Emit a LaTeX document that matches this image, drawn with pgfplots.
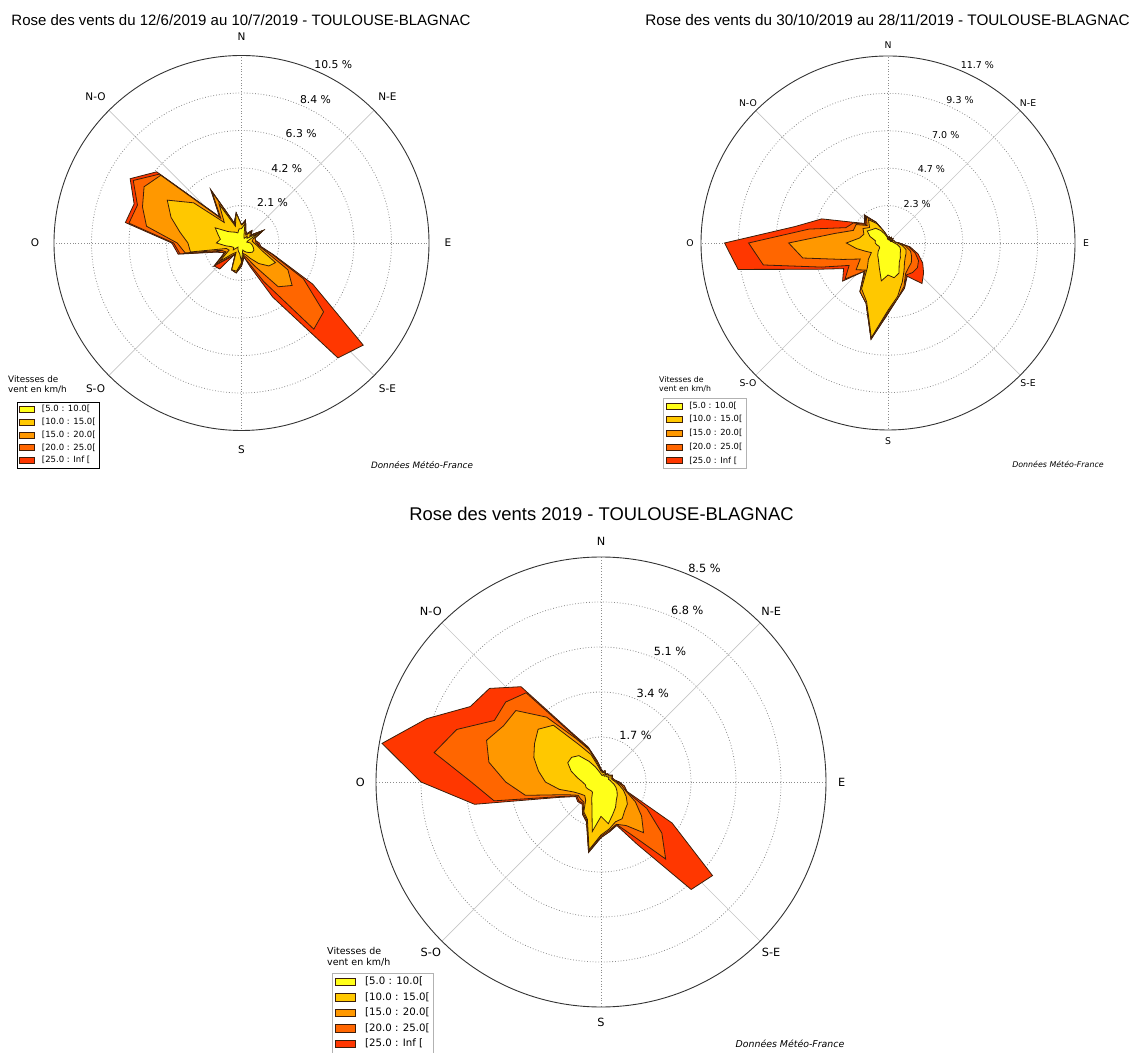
\documentclass[border=0pt]{standalone}
\usepackage{fontspec}
\setmainfont{DejaVu Sans}
\newfontfamily\titlefont{Liberation Sans}
\usepackage{pgfplots}
\usepackage{pgfplotstable}
\pgfplotsset{compat=1.18}
\usepgfplotslibrary{polar}

\definecolor{c1}{RGB}{255,255,25}
\definecolor{c2}{RGB}{255,200,0}
\definecolor{c3}{RGB}{255,152,0}
\definecolor{c4}{RGB}{255,102,0}
\definecolor{c5}{RGB}{255,55,0}
\definecolor{edge}{RGB}{60,30,10}

% direction (deg from north, clockwise), cumulative frequency (%) per speed class
\pgfplotstableread{
d l1 l2 l3 l4 l5
0 0.8 1.0 1.0 1.0 1.0
10 1.1 1.2 1.3 1.3 1.3
20 0.4 0.6 0.7 0.7 0.7
30 0.3 0.5 0.6 0.6 0.6
40 0.5 0.8 0.9 0.9 0.9
50 0.4 0.6 0.7 0.7 0.7
60 1.2 1.4 1.4 1.4 1.4
70 0.4 0.7 0.8 0.8 0.8
80 0.3 0.6 0.8 0.8 0.8
90 0.5 0.7 0.8 0.9 1.0
100 0.6 0.9 1.0 1.0 1.1
110 0.7 1.2 1.5 1.8 1.9
120 0.8 2.2 3.0 4.0 4.6
130 0.8 2.0 3.7 6.0 8.9
140 0.7 1.5 3.2 6.3 8.4
150 0.6 1.0 1.5 2.5 3.5
160 0.5 0.7 0.9 1.2 1.4
170 0.4 0.6 0.7 0.8 0.8
180 1.05 1.1 1.2 1.3 1.3
190 0.6 1.6 1.7 1.7 1.7
200 0.5 1.6 1.6 1.6 1.6
210 0.4 0.6 0.7 0.7 0.7
220 0.3 0.8 1.0 1.1 1.9
230 0.6 1.6 1.9 2.0 2.0
240 0.5 0.8 1.0 1.1 1.1
250 0.6 0.9 1.2 1.4 1.5
260 0.9 2.9 3.2 3.5 3.6
270 1.4 3.0 3.6 3.8 3.9
280 1.2 3.5 5.4 6.4 6.6
290 1.4 4.2 5.9 6.2 6.4
300 1.7 4.8 6.3 7.0 7.2
310 1.0 3.5 5.9 6.0 6.2
320 0.8 1.5 1.8 1.9 1.9
330 0.7 2.5 3.3 3.4 3.45
340 0.6 1.0 1.1 1.2 1.2
350 0.8 1.7 1.7 1.7 1.7
360 0.8 1.0 1.0 1.0 1.0
}\dataA

\pgfplotstableread{
d l1 l2 l3 l4 l5
0 0.2 0.3 0.3 0.3 0.3
10 0.3 0.4 0.4 0.4 0.4
20 0.2 0.3 0.3 0.3 0.3
30 0.3 0.4 0.4 0.4 0.4
40 0.2 0.3 0.3 0.3 0.3
50 0.3 0.4 0.4 0.4 0.4
60 0.2 0.3 0.3 0.3 0.3
70 0.3 0.4 0.4 0.4 0.4
80 0.3 0.4 0.4 0.4 0.4
90 0.4 0.6 0.7 0.7 0.7
100 0.6 0.9 1.1 1.3 1.4
110 0.8 1.2 1.5 1.8 2.0
120 0.9 1.3 1.7 2.2 2.5
130 1.0 1.4 1.9 2.4 2.9
140 1.2 1.6 2.0 2.4 3.3
150 1.4 2.0 2.2 2.3 2.4
160 2.0 2.6 2.9 3.0 3.0
170 2.2 3.4 3.5 3.5 3.5
180 2.0 4.2 4.3 4.4 4.4
190 2.4 6.0 6.05 6.1 6.1
200 1.6 3.9 4.0 4.0 4.0
210 1.2 3.3 3.5 3.5 3.5
220 1.0 2.0 2.2 2.3 2.3
230 0.8 1.6 2.6 3.5 3.7
240 0.6 1.2 2.0 2.8 3.2
250 0.6 1.5 3.0 4.4 4.8
260 0.7 2.0 5.4 7.9 9.5
270 0.8 2.6 6.2 8.7 10.2
280 0.8 1.8 3.4 5.0 5.9
290 1.2 1.6 2.3 2.8 4.4
300 1.5 1.8 2.3 2.5 2.6
310 1.3 1.5 1.7 1.8 1.9
320 1.2 1.9 2.1 2.2 2.3
330 0.9 1.4 1.5 1.5 1.5
340 0.6 0.8 0.8 0.8 0.8
350 0.4 0.5 0.5 0.5 0.5
360 0.2 0.3 0.3 0.3 0.3
}\dataB

\pgfplotstableread{
d l1 l2 l3 l4 l5
0 0.3 0.4 0.45 0.5 0.5
10 0.25 0.35 0.4 0.4 0.4
20 0.3 0.4 0.45 0.45 0.45
30 0.25 0.3 0.35 0.35 0.35
40 0.3 0.4 0.4 0.4 0.4
50 0.3 0.35 0.4 0.4 0.4
60 0.35 0.45 0.5 0.5 0.5
70 0.3 0.4 0.45 0.45 0.45
80 0.35 0.45 0.5 0.5 0.5
90 0.4 0.55 0.6 0.65 0.7
100 0.5 0.7 0.8 0.9 0.9
110 0.6 0.9 1.0 1.0 1.05
120 0.7 1.1 1.5 2.0 3.1
130 0.8 1.3 2.0 3.0 5.5
140 0.9 1.4 2.5 3.8 5.3
150 1.1 1.6 1.9 2.3 2.7
160 1.3 1.6 1.7 1.7 1.75
170 1.6 1.8 1.85 1.9 1.9
180 1.3 2.0 2.05 2.1 2.1
190 1.9 2.6 2.65 2.7 2.7
200 1.0 1.5 1.55 1.6 1.6
210 0.7 1.3 1.35 1.4 1.4
220 0.5 0.9 1.0 1.05 1.1
230 0.5 0.8 1.0 1.1 1.15
240 0.55 0.9 1.0 1.05 1.1
250 0.6 1.1 1.4 1.6 1.7
260 0.6 1.6 2.9 4.1 4.85
270 0.7 2.1 3.6 4.9 6.8
280 0.9 2.4 4.3 6.4 8.4
290 1.2 2.7 4.6 5.8 7.0
300 1.45 2.9 4.25 4.65 5.7
310 1.45 3.1 4.2 4.7 5.5
320 1.3 2.8 3.2 4.4 4.7
330 0.9 1.6 1.9 2.0 2.1
340 0.6 1.1 1.3 1.35 1.4
350 0.4 0.6 0.7 0.8 0.8
360 0.3 0.4 0.45 0.5 0.5
}\dataC

\pgfplotsset{
  rose/.style={
    scale only axis, clip=false, anchor=center,
    ymin=0,
    xtick={0,90,180,270}, minor xtick={45,135,225,315},
    xticklabels={}, yticklabels={},
    major tick length=0pt, minor tick length=0pt,
    grid=both,
    major grid style={gray!90, line width=0.8pt, dash pattern=on 0.8pt off 2pt},
    minor grid style={gray!45, line width=0.7pt},
    x axis line style={black!80, line width=0.9pt},
    y axis line style={draw=none},
    legend cell align=left, reverse legend,
  },
  rosepoly/.style={draw=edge, line width=0.8pt, fill=#1},
}

\newcommand{\fs}[1]{\fontsize{#1}{#1}\selectfont}
% direction labels: #1 radius (axis units), #2 font size
\newcommand{\dirlabels}[2]{%
  \node[font=\fs{#2}] at (axis cs:90,#1) {N};
  \node[font=\fs{#2}] at (axis cs:45,#1) {N-E};
  \node[font=\fs{#2}] at (axis cs:0,#1) {E};
  \node[font=\fs{#2}] at (axis cs:-45,#1) {S-E};
  \node[font=\fs{#2}] at (axis cs:-90,#1) {S};
  \node[font=\fs{#2}] at (axis cs:-135,#1) {S-O};
  \node[font=\fs{#2}] at (axis cs:180,#1) {O};
  \node[font=\fs{#2}] at (axis cs:135,#1) {N-O};
}
% ring label: #1 radius, #2 text, #3 font size
\newcommand{\rlab}[3]{%
  \node[anchor=south west, inner sep=1pt, font=\fs{#3}] at (axis cs:67.5,#1) {#2\ \%};}

\begin{document}
\begin{tikzpicture}[x=1pt,y=1pt]
\useasboundingbox (0,0) rectangle (1132,1052);

% ---------------- Chart 1 ----------------
\begin{polaraxis}[rose, at={(241.5pt,809pt)}, width=375pt, height=375pt,
  ymax=10.5, ytick={2.1,4.2,6.3,8.4},
  legend image code/.code={\draw[#1] (0pt,-2.8pt) rectangle (15pt,3.2pt);},
  legend style={at={(axis description cs:-0.0995,0.0768)}, anchor=north west,
    draw=black, line width=0.6pt, font=\fs{8.5}, inner sep=2.5pt,
    nodes={inner sep=1.2pt, text height=6.3pt, text depth=2pt},
    row sep=2pt, column sep=5.5pt}]
\addplot[rosepoly=c5] table[x expr=90-\thisrow{d}, y=l5]{\dataA};
\addlegendentry{{[25.0 : Inf [}}
\addplot[rosepoly=c4] table[x expr=90-\thisrow{d}, y=l4]{\dataA};
\addlegendentry{{[20.0 : 25.0[}}
\addplot[rosepoly=c3] table[x expr=90-\thisrow{d}, y=l3]{\dataA};
\addlegendentry{{[15.0 : 20.0[}}
\addplot[rosepoly=c2] table[x expr=90-\thisrow{d}, y=l2]{\dataA};
\addlegendentry{{[10.0 : 15.0[}}
\addplot[rosepoly=c1] table[x expr=90-\thisrow{d}, y=l1]{\dataA};
\addlegendentry{{[5.0 : 10.0[}}
\dirlabels{11.56}{10.5}
\rlab{2.1}{2.1}{10.8}
\rlab{4.2}{4.2}{10.8}
\rlab{6.3}{6.3}{10.8}
\rlab{8.4}{8.4}{10.8}
\rlab{10.5}{10.5}{10.8}
\end{polaraxis}
\node[font=\titlefont\fs{15}] at (241,1032) {Rose des vents du 12/6/2019 au 10/7/2019 - TOULOUSE-BLAGNAC};
\node[anchor=north west, align=left, inner sep=0pt, font=\fontsize{8.8}{10.3}\selectfont] at (8,676.5) {Vitesses de\\vent en km/h};
\node[font=\itshape\fs{8.8}] at (422,586.5) {Données Météo-France};

% ---------------- Chart 2 ----------------
\begin{polaraxis}[rose, at={(888pt,809pt)}, width=374pt, height=374pt,
  ymax=11.67, ytick={2.334,4.668,7.002,9.336},
  legend image code/.code={\draw[#1] (0pt,-2.8pt) rectangle (16pt,3.2pt);},
  legend style={at={(axis description cs:-0.1016,0.0856)}, anchor=north west,
    draw=gray!60, line width=0.6pt, font=\fs{8.4}, inner sep=2.5pt,
    nodes={inner sep=1.2pt, text height=6.3pt, text depth=2pt},
    row sep=3pt, column sep=5.5pt}]
\addplot[rosepoly=c5] table[x expr=90-\thisrow{d}, y=l5]{\dataB};
\addlegendentry{{[25.0 : Inf [}}
\addplot[rosepoly=c4] table[x expr=90-\thisrow{d}, y=l4]{\dataB};
\addlegendentry{{[20.0 : 25.0[}}
\addplot[rosepoly=c3] table[x expr=90-\thisrow{d}, y=l3]{\dataB};
\addlegendentry{{[15.0 : 20.0[}}
\addplot[rosepoly=c2] table[x expr=90-\thisrow{d}, y=l2]{\dataB};
\addlegendentry{{[10.0 : 15.0[}}
\addplot[rosepoly=c1] table[x expr=90-\thisrow{d}, y=l1]{\dataB};
\addlegendentry{{[5.0 : 10.0[}}
\dirlabels{12.36}{9.3}
\rlab{2.334}{2.3}{9.5}
\rlab{4.668}{4.7}{9.5}
\rlab{7.002}{7.0}{9.5}
\rlab{9.336}{9.3}{9.5}
\rlab{11.67}{11.7}{9.5}
\end{polaraxis}
\node[font=\titlefont\fs{15.3}] at (887.5,1032) {Rose des vents du 30/10/2019 au 28/11/2019 - TOULOUSE-BLAGNAC};
\node[anchor=north west, align=left, inner sep=0pt, font=\fontsize{7.8}{9.2}\selectfont] at (659,675.5) {Vitesses de\\vent en km/h};
\node[font=\itshape\fs{7.9}] at (1058,588) {Données Météo-France};

% ---------------- Chart 3 ----------------
\begin{polaraxis}[rose, at={(601pt,270pt)}, width=450pt, height=450pt,
  ymax=8.5, ytick={1.7,3.4,5.1,6.8},
  legend image code/.code={\draw[#1] (0pt,-3.6pt) rectangle (20.7pt,4.2pt);},
  legend style={at={(axis description cs:-0.0978,0.0756)}, anchor=north west,
    draw=gray!60, line width=0.6pt, font=\fs{10.2}, inner sep=2.5pt,
    nodes={inner sep=1.4pt, text height=7.6pt, text depth=2.5pt},
    row sep=2.6pt, column sep=7.5pt}]
\addplot[rosepoly=c5] table[x expr=90-\thisrow{d}, y=l5]{\dataC};
\addlegendentry{{[25.0 : Inf [}}
\addplot[rosepoly=c4] table[x expr=90-\thisrow{d}, y=l4]{\dataC};
\addlegendentry{{[20.0 : 25.0[}}
\addplot[rosepoly=c3] table[x expr=90-\thisrow{d}, y=l3]{\dataC};
\addlegendentry{{[15.0 : 20.0[}}
\addplot[rosepoly=c2] table[x expr=90-\thisrow{d}, y=l2]{\dataC};
\addlegendentry{{[10.0 : 15.0[}}
\addplot[rosepoly=c1] table[x expr=90-\thisrow{d}, y=l1]{\dataC};
\addlegendentry{{[5.0 : 10.0[}}
\dirlabels{9.09}{11.3}
\rlab{1.7}{1.7}{11.3}
\rlab{3.4}{3.4}{11.3}
\rlab{5.1}{5.1}{11.3}
\rlab{6.8}{6.8}{11.3}
\rlab{8.5}{8.5}{11.3}
\end{polaraxis}
\node[font=\titlefont\fs{18.4}] at (601.5,538.4) {Rose des vents 2019 - TOULOUSE-BLAGNAC};
\node[anchor=north west, align=left, inner sep=0pt, font=\fontsize{9.5}{11.2}\selectfont] at (327,105) {Vitesses de\\vent en km/h};
\node[font=\itshape\fs{9.4}] at (790,8) {Données Météo-France};
\end{tikzpicture}
\end{document}
